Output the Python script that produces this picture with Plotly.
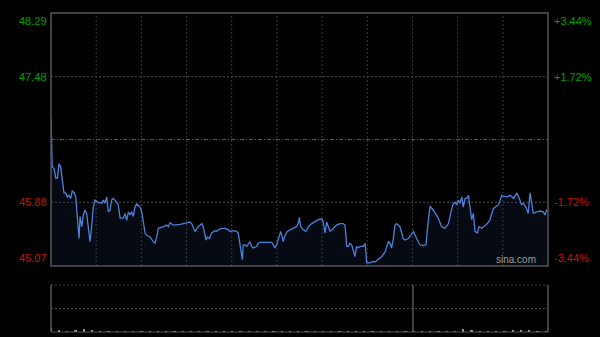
import plotly.graph_objects as go

# ---- data ----
minutes = [0, 0.6, 1.5, 2.3, 3.1, 3.9, 4.7, 5.5, 6.3, 7.1, 7.9, 8.7, 9.6, 10.3, 11.2, 12.0, 12.8, 13.6, 14.1, 14.9,
           15.7, 16.5, 17.3, 18.1, 18.9, 19.7, 20.5, 21.3, 22.9, 24.6, 25.4, 26.2, 27.0, 27.8, 28.6, 29.4, 30.2, 31.9, 32.6, 33.5,
           35.1, 35.9, 36.7, 37.5, 38.3, 39.1, 39.9, 40.7, 41.6, 43.2, 44.0, 44.8, 45.6, 46.4, 48.0, 49.6, 50.4, 51.3, 52.0, 54.5,
           56.1, 56.9, 57.7, 59.3, 62.6, 65.8, 67.4, 68.2, 69.8, 71.4, 73.1, 73.8, 75.2, 75.8, 76.8, 77.9, 79.5, 80.3, 81.1, 82.8,
           84.4, 86.0, 86.8, 88.4, 90.0, 90.8, 91.6, 92.8, 93.2, 94.1, 94.9, 95.7, 96.5, 97.3, 98.1, 99.8, 100.5, 101.3, 107.0, 107.8,
           108.6, 109.4, 110.2, 111.0, 111.4, 111.9, 112.6, 113.5, 114.6, 115.9, 117.5, 119.1, 119.9, 120.4, 121.1, 122.3, 123.6, 124.8, 126.4, 128.0,
           129.6, 131.3, 132.0, 132.9, 133.7, 134.5, 135.3, 136.9, 138.5, 140.1, 141.7, 142.6, 143.4, 144.2, 145.0, 145.8, 146.6, 147.4, 148.2, 149.0,
           149.8, 151.4, 152.3, 153.1, 154.7, 156.3, 157.1, 158.7, 160.4, 162.0, 163.6, 164.4, 165.2, 166.0, 166.8, 167.6, 169.2, 170.8, 171.7, 173.3,
           175.7, 177.3, 178.9, 180.5, 181.8, 183.0, 183.8, 185.4, 187.8, 189.4, 191.1, 192.7, 193.5, 194.8, 195.9, 196.7, 197.5, 198.3, 199.2, 199.9,
           200.8, 201.6, 202.4, 203.2, 204.0, 204.8, 205.6, 206.7, 207.6, 208.9, 210.5, 211.6, 212.9, 214.5, 215.4, 217.0, 218.6, 219.4, 221.1, 222.7,
           224.3, 225.1, 225.9, 227.1, 228.2, 229.0, 230.3, 231.4, 232.3, 233.1, 233.9, 235.5, 237.1, 238.7, 239.5, 240.3, 241]
prices = [46.95, 46.33, 46.31, 46.19, 46.19, 46.37, 46.33, 46.16, 46.00, 46.00, 45.95, 45.97, 45.93, 46.03, 46.00, 45.95, 45.70, 45.42, 45.70, 45.57,
          45.72, 45.78, 45.74, 45.57, 45.38, 45.57, 45.82, 45.91, 45.88, 45.87, 45.91, 45.87, 45.95, 45.76, 45.78, 45.91, 45.93, 45.88, 45.85, 45.68,
          45.68, 45.74, 45.65, 45.76, 45.72, 45.76, 45.70, 45.82, 45.86, 45.82, 45.76, 45.63, 45.49, 45.46, 45.44, 45.38, 45.36, 45.44, 45.55, 45.57,
          45.59, 45.57, 45.62, 45.59, 45.60, 45.62, 45.63, 45.61, 45.51, 45.57, 45.61, 45.57, 45.40, 45.44, 45.42, 45.49, 45.52, 45.51, 45.53, 45.55,
          45.55, 45.53, 45.51, 45.52, 45.51, 45.49, 45.34, 45.15, 45.34, 45.34, 45.32, 45.36, 45.38, 45.32, 45.30, 45.32, 45.36, 45.37, 45.37, 45.34,
          45.30, 45.34, 45.42, 45.49, 45.51, 45.46, 45.38, 45.46, 45.51, 45.53, 45.55, 45.57, 45.61, 45.69, 45.57, 45.53, 45.51, 45.57, 45.61, 45.63,
          45.66, 45.67, 45.63, 45.49, 45.63, 45.57, 45.51, 45.55, 45.59, 45.61, 45.61, 45.59, 45.32, 45.32, 45.36, 45.34, 45.25, 45.19, 45.32, 45.30,
          45.32, 45.32, 45.36, 45.11, 45.11, 45.13, 45.12, 45.15, 45.19, 45.25, 45.38, 45.36, 45.30, 45.42, 45.59, 45.61, 45.57, 45.42, 45.40, 45.42,
          45.51, 45.42, 45.34, 45.33, 45.34, 45.66, 45.83, 45.78, 45.68, 45.57, 45.55, 45.61, 45.70, 45.85, 45.88, 45.85, 45.91, 45.87, 45.95, 45.82,
          45.93, 45.93, 45.97, 45.80, 45.66, 45.74, 45.51, 45.49, 45.57, 45.55, 45.59, 45.61, 45.66, 45.80, 45.82, 45.85, 45.97, 45.96, 45.95, 45.97,
          45.93, 45.97, 46.00, 45.93, 45.85, 45.87, 45.82, 45.74, 46.00, 45.87, 45.74, 45.76, 45.77, 45.76, 45.72, 45.78, 45.77]

vol_minutes = list(range(0, 244, 4))
volumes = [8, 3, 2, 5, 6, 4, 2, 2, 1, 2, 2, 1, 2, 1, 2, 1, 1, 2, 1, 1,
           2, 1, 1, 2, 1, 1, 2, 1, 1, 2, 1, 1, 2, 1, 1, 1, 2, 1, 1, 2,
           1, 1, 2, 1, 1, 2, 1, 2, 1, 2, 7, 5, 2, 1, 2, 2, 4, 5, 4, 2, 2]

prev_close = 46.68
y_min, y_max = 45.07, 48.29
left_labels = ["48.29", "47.48", "45.88", "45.07"]
left_values = [48.29, 47.48, 45.88, 45.07]
right_labels = ["+3.44%", "+1.72%", "-1.72%", "-3.44%"]

GREEN = "#00a000"
RED = "#c81400"
GRID = "#4a4a4a"
BORDER = "#555555"

fig = go.Figure()
fig.add_trace(go.Scatter(
    x=minutes, y=prices, mode="lines",
    line=dict(color="#4a82dc", width=1.3),
    fill="tozeroy", fillcolor="rgba(40,70,120,0.16)",
    hoverinfo="skip", xaxis="x", yaxis="y"))
fig.add_trace(go.Bar(
    x=vol_minutes, y=volumes, marker=dict(color="#999999", line=dict(width=0)),
    width=0.8, hoverinfo="skip", xaxis="x2", yaxis="y2"))

price_bottom = (332 - 266) / 319
vol_top = (332 - 285) / 319

fig.update_layout(
    width=600, height=337,
    margin=dict(l=51, r=52, t=13, b=5),
    paper_bgcolor="#000000", plot_bgcolor="#000000",
    showlegend=False, bargap=0,
    xaxis=dict(range=[0, 241], domain=[0, 1], showgrid=False, zeroline=False,
               showticklabels=False, showline=False, anchor="y"),
    yaxis=dict(range=[y_min, y_max], domain=[price_bottom, 1], showgrid=False,
               zeroline=False, showticklabels=False, showline=False),
    xaxis2=dict(range=[0, 241], domain=[0, 1], showgrid=False, zeroline=False,
                showticklabels=False, showline=False, anchor="y2"),
    yaxis2=dict(range=[0, 100], domain=[0, vol_top], showgrid=False,
                zeroline=False, showticklabels=False, showline=False),
)

shapes = []
# price panel border
shapes.append(dict(type="rect", xref="x domain", yref="y domain", x0=0, x1=1, y0=0, y1=1,
                   line=dict(color=BORDER, width=1.5), layer="above"))
# vertical dotted grid
for k in range(1, 11):
    xv = k * 241 / 11
    shapes.append(dict(type="line", xref="x", yref="y domain", x0=xv, x1=xv, y0=0, y1=1,
                       line=dict(color="#3a3a3a", width=1, dash="2px,2px"), layer="below"))
# horizontal dotted grid
for v in [47.48, 45.88]:
    shapes.append(dict(type="line", xref="x domain", yref="y", x0=0, x1=1, y0=v, y1=v,
                       line=dict(color=GRID, width=1, dash="2px,2px"), layer="below"))
shapes.append(dict(type="line", xref="x domain", yref="y", x0=0, x1=1, y0=prev_close, y1=prev_close,
                   line=dict(color="#5a5a5a", width=1, dash="4px,2px,1px,2px"), layer="below"))
# volume panel
shapes.append(dict(type="line", xref="x2 domain", yref="y2 domain", x0=0, x1=1, y0=1, y1=1,
                   line=dict(color=GRID, width=1, dash="2px,2px")))
shapes.append(dict(type="line", xref="x2 domain", yref="y2 domain", x0=0, x1=1, y0=0.5, y1=0.5,
                   line=dict(color=GRID, width=1, dash="2px,2px")))
shapes.append(dict(type="line", xref="x2 domain", yref="y2 domain", x0=0, x1=1, y0=0, y1=0,
                   line=dict(color=BORDER, width=1)))
shapes.append(dict(type="line", xref="x2 domain", yref="y2 domain", x0=0, x1=0, y0=0, y1=1,
                   line=dict(color=BORDER, width=1.5)))
shapes.append(dict(type="line", xref="x2 domain", yref="y2 domain", x0=1, x1=1, y0=0, y1=1,
                   line=dict(color=BORDER, width=1.5)))
shapes.append(dict(type="line", xref="x2", yref="y2 domain", x0=175.5, x1=175.5, y0=0, y1=1,
                   line=dict(color=BORDER, width=1.5)))
fig.update_layout(shapes=shapes)

annotations = []
anchors = ["top", "middle", "middle", "bottom"]
for lab, val, rl, anc in zip(left_labels, left_values, right_labels, anchors):
    col = GREEN if val > prev_close else RED
    annotations.append(dict(xref="paper", yref="y", x=0, y=val, text=lab, showarrow=False,
                            xanchor="right", yanchor=anc, xshift=-2,
                            font=dict(family="Arial, Liberation Sans", size=11, color=col)))
    annotations.append(dict(xref="paper", yref="y", x=1, y=val, text=rl, showarrow=False,
                            xanchor="left", yanchor=anc, xshift=4,
                            font=dict(family="Arial, Liberation Sans", size=11, color=col)))
annotations.append(dict(xref="paper", yref="y", x=0.979, y=y_min, text="sina.com", showarrow=False,
                        xanchor="right", yanchor="bottom", yshift=-1,
                        font=dict(family="Arial, Liberation Sans", size=10, color="#9a9a9a")))
fig.update_layout(annotations=annotations)

fig.write_html("out.html")
